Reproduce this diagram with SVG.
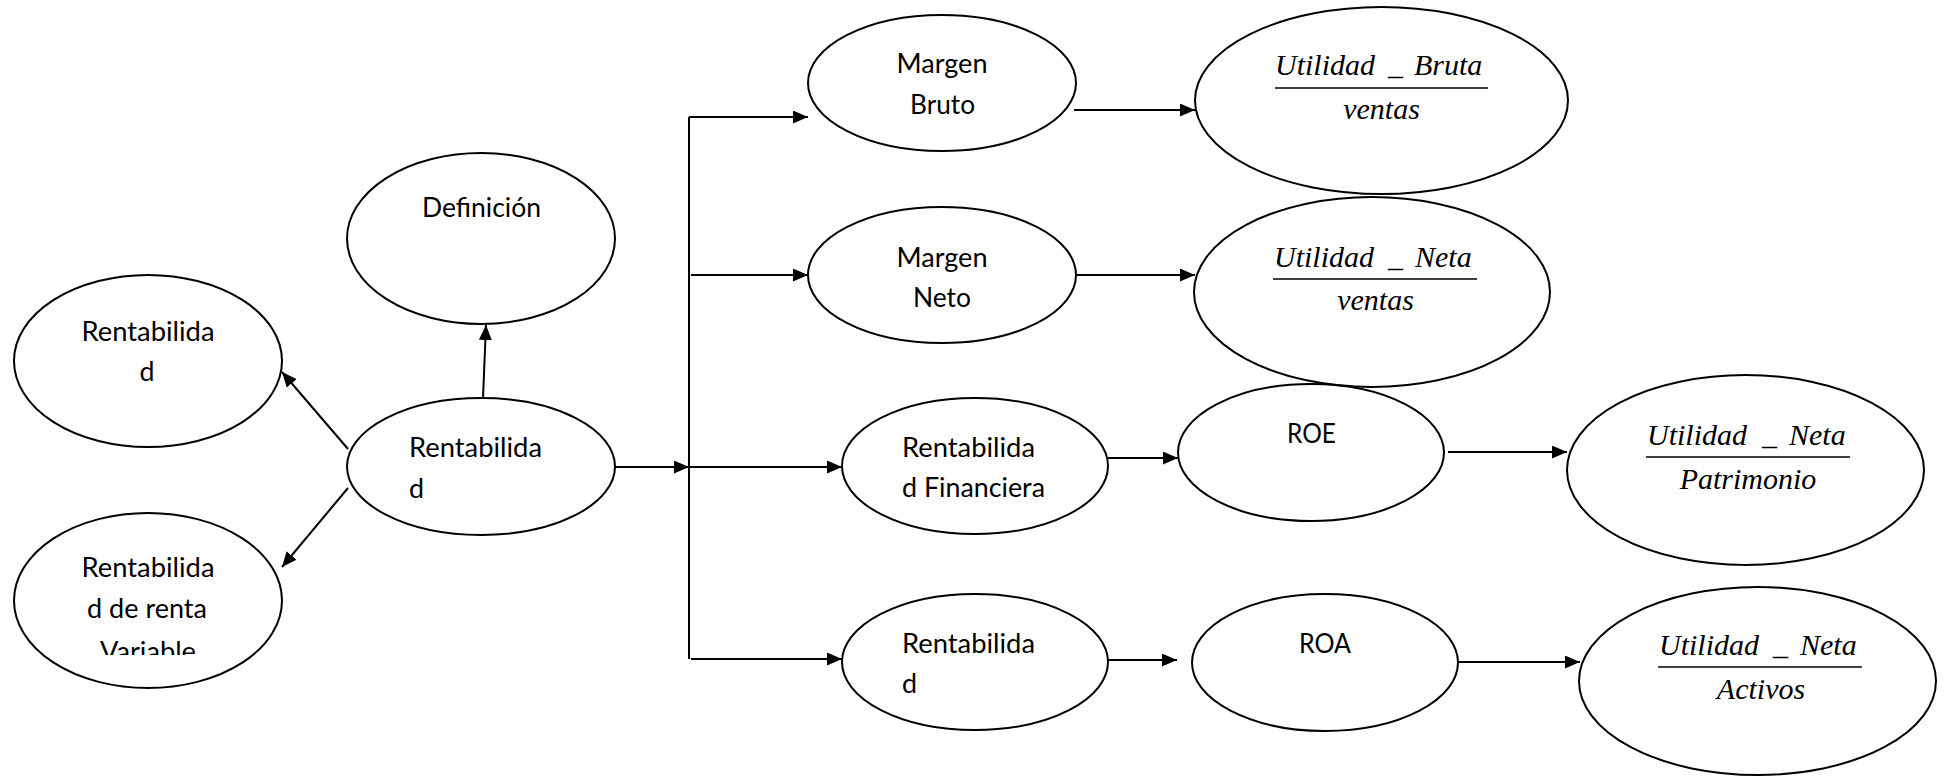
<svg xmlns="http://www.w3.org/2000/svg" width="1946" height="776" viewBox="0 0 1946 776">
  <defs>
    <style>
      .shape { fill: none; stroke: #000; stroke-width: 2; }
      .lbl { font-family: Lato, "Liberation Sans", sans-serif; font-size: 27px; fill: #000; }
      .mid { text-anchor: middle; }
      text.eq { font-family: "Liberation Serif", Tinos, "Times New Roman", Times, serif; font-style: italic; font-weight: 400; font-size: 30px; fill: #000; }
      text.num { text-anchor: start; }
      text.den { text-anchor: middle; }
      .bar { stroke: #000; stroke-width: 1.5; }
      .link { fill: none; stroke: #000; stroke-width: 2; }
    </style>
    <marker id="ah" markerUnits="userSpaceOnUse" markerWidth="15" markerHeight="13" refX="15" refY="6.5" orient="auto">
      <path d="M0,0 L15,6.5 L0,13 Z" fill="#000"/>
    </marker>
    <clipPath id="clip-var">
      <rect x="0" y="500" width="300" height="155"/>
    </clipPath>
  </defs>

  <rect x="0" y="0" width="1946" height="776" fill="#fff"/>

  <!-- left branch -->
  <g id="n-rent-tipo">
    <ellipse class="shape" cx="148" cy="361" rx="134" ry="86"/>
    <text class="lbl mid" x="148" y="341" textLength="133" lengthAdjust="spacingAndGlyphs">Rentabilida</text>
    <text class="lbl mid" x="147" y="381" textLength="15" lengthAdjust="spacingAndGlyphs">d</text>
  </g>
  <g id="n-rent-variable">
    <ellipse class="shape" cx="148" cy="600.5" rx="134" ry="87.5"/>
    <g clip-path="url(#clip-var)">
      <text class="lbl mid" x="148" y="577" textLength="133" lengthAdjust="spacingAndGlyphs">Rentabilida</text>
      <text class="lbl mid" x="147" y="618" textLength="120" lengthAdjust="spacingAndGlyphs">d de renta</text>
      <text class="lbl mid" x="148" y="661" textLength="96" lengthAdjust="spacingAndGlyphs">Variable</text>
    </g>
  </g>
  <g id="n-definicion">
    <ellipse class="shape" cx="481" cy="238.5" rx="134" ry="85.5"/>
    <text class="lbl mid" x="481.5" y="217" textLength="119" lengthAdjust="spacingAndGlyphs">Definición</text>
  </g>
  <g id="n-rentabilidad">
    <ellipse class="shape" cx="481" cy="466.5" rx="134" ry="68.5"/>
    <text class="lbl" x="409" y="457" textLength="133" lengthAdjust="spacingAndGlyphs">Rentabilida</text>
    <text class="lbl" x="409" y="498" textLength="15" lengthAdjust="spacingAndGlyphs">d</text>
  </g>

  <!-- ratio branches -->
  <g id="n-margen-bruto">
    <ellipse class="shape" cx="942" cy="83" rx="134" ry="68"/>
    <text class="lbl mid" x="942" y="73" textLength="91" lengthAdjust="spacingAndGlyphs">Margen</text>
    <text class="lbl mid" x="942.5" y="114" textLength="65" lengthAdjust="spacingAndGlyphs">Bruto</text>
  </g>
  <g id="n-margen-neto">
    <ellipse class="shape" cx="942" cy="275" rx="134" ry="68"/>
    <text class="lbl mid" x="942" y="267" textLength="91" lengthAdjust="spacingAndGlyphs">Margen</text>
    <text class="lbl mid" x="942" y="307" textLength="58" lengthAdjust="spacingAndGlyphs">Neto</text>
  </g>
  <g id="n-rent-financiera">
    <ellipse class="shape" cx="975" cy="466" rx="133" ry="68"/>
    <text class="lbl" x="902" y="457" textLength="133" lengthAdjust="spacingAndGlyphs">Rentabilida</text>
    <text class="lbl" x="902" y="497" textLength="143" lengthAdjust="spacingAndGlyphs">d Financiera</text>
  </g>
  <g id="n-rent-economica">
    <ellipse class="shape" cx="975" cy="662" rx="133" ry="68"/>
    <text class="lbl" x="902" y="653" textLength="133" lengthAdjust="spacingAndGlyphs">Rentabilida</text>
    <text class="lbl" x="902" y="693" textLength="15" lengthAdjust="spacingAndGlyphs">d</text>
  </g>
  <g id="n-roe">
    <ellipse class="shape" cx="1311" cy="452.5" rx="133" ry="68.5"/>
    <text class="lbl mid" x="1311.5" y="443" textLength="49" lengthAdjust="spacingAndGlyphs">ROE</text>
  </g>
  <g id="n-roa">
    <ellipse class="shape" cx="1325" cy="662.5" rx="133" ry="68.5"/>
    <text class="lbl mid" x="1325" y="653" textLength="52" lengthAdjust="spacingAndGlyphs">ROA</text>
  </g>

  <!-- formulas (serif italic fractions) -->
  <g id="f-margen-bruto">
    <ellipse class="shape" cx="1381.5" cy="100.5" rx="186.5" ry="93.5"/>
    <text class="eq num" y="75"><tspan x="1275">Utilidad</tspan><tspan x="1388">_</tspan><tspan x="1414">Bruta</tspan></text>
    <line class="bar" x1="1275" y1="88" x2="1488" y2="88"/>
    <text class="eq den" x="1381.5" y="119">ventas</text>
  </g>
  <g id="f-margen-neto">
    <ellipse class="shape" cx="1372" cy="292" rx="178" ry="95"/>
    <text class="eq num" y="267"><tspan x="1274">Utilidad</tspan><tspan x="1388">_</tspan><tspan x="1415">Neta</tspan></text>
    <line class="bar" x1="1273" y1="279" x2="1477" y2="279"/>
    <text class="eq den" x="1375.5" y="310">ventas</text>
  </g>
  <g id="f-roe">
    <ellipse class="shape" cx="1745.5" cy="470" rx="178.5" ry="95"/>
    <text class="eq num" y="445"><tspan x="1647">Utilidad</tspan><tspan x="1762">_</tspan><tspan x="1789">Neta</tspan></text>
    <line class="bar" x1="1646" y1="457" x2="1850" y2="457"/>
    <text class="eq den" x="1748" y="489">Patrimonio</text>
  </g>
  <g id="f-roa">
    <ellipse class="shape" cx="1757.5" cy="681" rx="178.5" ry="94"/>
    <text class="eq num" y="655"><tspan x="1659">Utilidad</tspan><tspan x="1773">_</tspan><tspan x="1800">Neta</tspan></text>
    <line class="bar" x1="1658" y1="667" x2="1862" y2="667"/>
    <text class="eq den" x="1761" y="699">Activos</text>
  </g>

  <!-- connectors -->
  <g id="connectors">
    <path class="link" d="M483,398 L486,325" marker-end="url(#ah)"/>
    <path class="link" d="M348,449 L282,372" marker-end="url(#ah)"/>
    <path class="link" d="M348,488 L282,567" marker-end="url(#ah)"/>
    <path class="link" d="M615,467 L689,467" marker-end="url(#ah)"/>
    <path class="link" d="M689,117 L689,659"/>
    <path class="link" d="M689,117 L808,117" marker-end="url(#ah)"/>
    <path class="link" d="M691,275 L808,275" marker-end="url(#ah)"/>
    <path class="link" d="M689,467 L842,467" marker-end="url(#ah)"/>
    <path class="link" d="M691,659 L842,659" marker-end="url(#ah)"/>
    <path class="link" d="M1074,110 L1195,110" marker-end="url(#ah)"/>
    <path class="link" d="M1076,275 L1195,275" marker-end="url(#ah)"/>
    <path class="link" d="M1108,458 L1178,458" marker-end="url(#ah)"/>
    <path class="link" d="M1108,660 L1177,660" marker-end="url(#ah)"/>
    <path class="link" d="M1448,452 L1567,452" marker-end="url(#ah)"/>
    <path class="link" d="M1459,662 L1580,662" marker-end="url(#ah)"/>
  </g>
</svg>
